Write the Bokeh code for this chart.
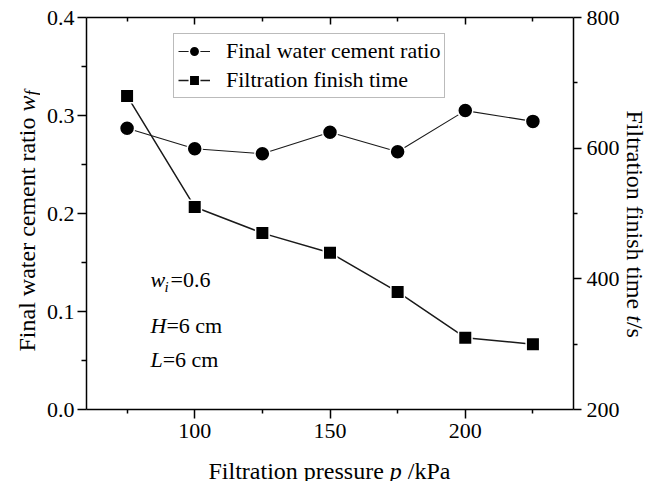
from math import pi

from bokeh.embed import file_html
from bokeh.layouts import column, row
from bokeh.models import (FixedTicker, Label, Legend, LegendItem, LinearAxis,
                          NumeralTickFormatter, Range1d)
from bokeh.plotting import figure
from bokeh.resources import INLINE

# Filtration tests: pressure (kPa) vs final w/c ratio and finish time (s)
pressure = [75, 100, 125, 150, 175, 200, 225]
water_cement_ratio = [0.287, 0.266, 0.261, 0.283, 0.263, 0.305, 0.294]
finish_time = [680, 510, 470, 440, 380, 310, 300]

x_major = [100, 150, 200]
x_minor = [75, 125, 175, 225]
wf_major = [0.0, 0.1, 0.2, 0.3, 0.4]
wf_minor = [0.05, 0.15, 0.25, 0.35]
t_major = [200, 400, 600, 800]
t_minor = [300, 500, 700]

SERIF = "Liberation Serif"
TICK_SIZE = "22px"
TITLE_SIZE = "24px"
NOTE_SIZE = "22px"

FRAME_W, FRAME_H = 487, 392
TOP, BOTTOM = 17, 34
GAP = 10  # space the column leaves above the x-title strip
TITLE_STRIP = 491 - (TOP + FRAME_H + BOTTOM) - GAP

p = figure(title=None, frame_width=FRAME_W, frame_height=FRAME_H,
           x_range=Range1d(60, 240), y_range=Range1d(0, 0.4),
           output_backend="svg", toolbar_location=None,
           min_border_left=46, min_border_right=47,
           min_border_top=TOP, min_border_bottom=BOTTOM)
p.extra_y_ranges = {"time": Range1d(200, 800)}
p.grid.visible = False
p.outline_line_color = None
p.background_fill_color = "white"
p.border_fill_color = "white"


def style_axis(ax, major_out, minor_out, major_in=0, minor_in=0):
    ax.axis_line_width = 1.5
    ax.axis_line_color = "black"
    ax.major_tick_line_width = 1.5
    ax.minor_tick_line_width = 1.5
    ax.major_tick_line_color = "black"
    ax.minor_tick_line_color = "black"
    ax.major_tick_out = major_out
    ax.major_tick_in = major_in
    ax.minor_tick_out = minor_out
    ax.minor_tick_in = minor_in
    ax.major_label_text_font = SERIF
    ax.major_label_text_font_size = TICK_SIZE
    ax.major_label_text_color = "black"


xaxis = p.xaxis[0]
xaxis.ticker = FixedTicker(ticks=x_major, minor_ticks=x_minor)
style_axis(xaxis, 9, 4)
xaxis.major_label_standoff = 5

yaxis = p.yaxis[0]
yaxis.ticker = FixedTicker(ticks=wf_major, minor_ticks=wf_minor)
yaxis.formatter = NumeralTickFormatter(format="0.0")
style_axis(yaxis, 9, 5)
yaxis.major_label_standoff = 3

# top edge: inward ticks only, no labels
top = LinearAxis(ticker=FixedTicker(ticks=x_major, minor_ticks=x_minor))
style_axis(top, 0, 0, major_in=7, minor_in=4)
top.major_label_overrides = {t: "" for t in x_major}
top.major_label_text_font_size = "0px"
top.major_label_standoff = 0
p.add_layout(top, "above")

right = LinearAxis(y_range_name="time",
                   ticker=FixedTicker(ticks=t_major, minor_ticks=t_minor))
style_axis(right, 8, 4)
right.major_label_standoff = 5
p.add_layout(right, "right")

# data series
l1 = p.line(pressure, water_cement_ratio, line_color="#1a1a1a", line_width=1.1)
s1 = p.scatter(pressure, water_cement_ratio, marker="circle", size=15,
               fill_color="black", line_color="white", line_width=1.5)
l2 = p.line(pressure, finish_time, y_range_name="time",
            line_color="#1a1a1a", line_width=1.5)
s2 = p.scatter(pressure, finish_time, y_range_name="time", marker="square",
               size=13.5, fill_color="black", line_color="white", line_width=1.5)

legend = Legend(items=[
    LegendItem(label="Final water cement ratio", renderers=[l1, s1]),
    LegendItem(label="Filtration finish time", renderers=[l2, s2]),
], location=(87, 311))
legend.border_line_color = "#777777"
legend.border_line_width = 1
legend.background_fill_color = "white"
legend.padding = 4
legend.spacing = 3
legend.margin = 0
legend.glyph_width = 32
legend.glyph_height = 26
legend.label_height = 26
legend.label_standoff = 16
legend.label_text_font = SERIF
legend.label_text_font_size = "22px"
legend.label_text_color = "black"
p.add_layout(legend)


def blank(frame_width, frame_height, top=0, bottom=0):
    f = figure(title=None, frame_width=frame_width, frame_height=frame_height,
               x_range=Range1d(0, frame_width), y_range=Range1d(0, frame_height),
               output_backend="svg", toolbar_location=None,
               x_axis_location=None, y_axis_location=None,
               min_border_left=0, min_border_right=0,
               min_border_top=top, min_border_bottom=bottom)
    f.grid.visible = False
    f.outline_line_color = None
    f.background_fill_color = "white"
    f.border_fill_color = "white"
    return f


def text(fig, x, y, s, size, italic=False, angle=0.0):
    fig.add_layout(Label(x=x, y=y, x_units="screen", y_units="screen", text=s,
                         angle=angle, text_font=SERIF, text_font_size=size,
                         text_font_style="italic" if italic else "normal",
                         text_color="black", text_align="left",
                         text_baseline="alphabetic"))


# y-axis title (left side)
left_panel = blank(40, FRAME_H, TOP, BOTTOM)
text(left_panel, 26, 58, "Final water cement ratio", TITLE_SIZE, angle=pi / 2)
text(left_panel, 26, 298, "w", TITLE_SIZE, italic=True, angle=pi / 2)
text(left_panel, 31, 314, "f", "18px", italic=True, angle=pi / 2)

# secondary y-axis title (right side)
right_panel = blank(32, FRAME_H, TOP, BOTTOM)
text(right_panel, 12, 299, "Filtration finish time", TITLE_SIZE, angle=-pi / 2)
text(right_panel, 12, 94.3, "t", TITLE_SIZE, italic=True, angle=-pi / 2)
text(right_panel, 12, 87.6, "/s", TITLE_SIZE, angle=-pi / 2)

# x-axis title
bottom_panel = blank(652, TITLE_STRIP)
text(bottom_panel, 208, 11, "Filtration pressure", TITLE_SIZE)
text(bottom_panel, 389.3, 11, "p", TITLE_SIZE, italic=True)
text(bottom_panel, 407.3, 11, "/kPa", TITLE_SIZE)

# test conditions
text(p, 64, 130, "w", NOTE_SIZE, italic=True)
text(p, 78, 123, "i", "15px", italic=True)
text(p, 84, 130, "=0.6", NOTE_SIZE)
text(p, 64, 84, "H", NOTE_SIZE, italic=True)
text(p, 79.9, 84, "=6 cm", NOTE_SIZE)
text(p, 64, 50, "L", NOTE_SIZE, italic=True)
text(p, 76.2, 50, "=6 cm", NOTE_SIZE)

layout = column(row(left_panel, p, right_panel, spacing=0), bottom_panel, spacing=0)

open("out.html", "w").write(file_html(layout, INLINE))
